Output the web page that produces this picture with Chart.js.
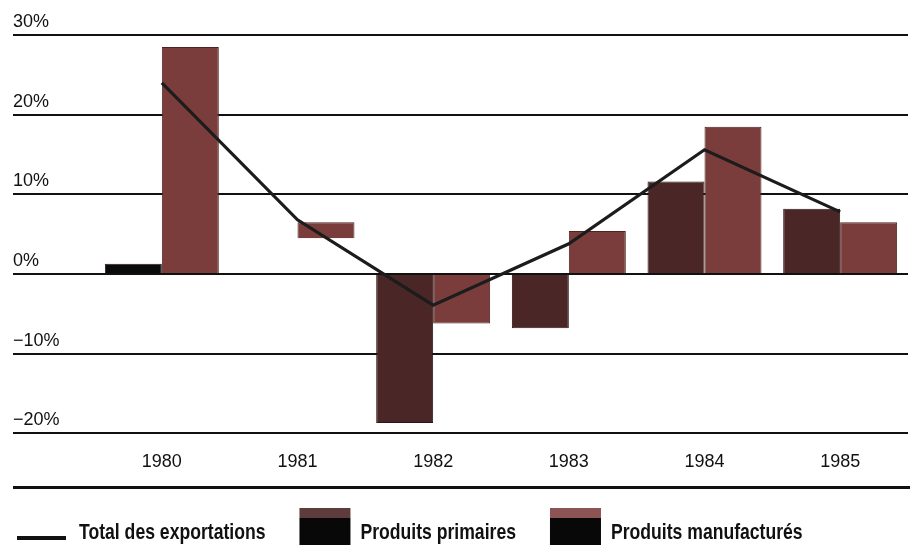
<!DOCTYPE html>
<html>
<head>
<meta charset="utf-8">
<script src="https://cdn.jsdelivr.net/npm/chart.js@4.4.1/dist/chart.umd.min.js"></script>
<style>
html, body { margin: 0; padding: 0; background: #fff; }
#wrap { width: 917px; height: 548px; }
</style>
</head>
<body>
<div id="wrap"><canvas id="exportChart" width="917" height="548"></canvas></div>
<script>
// années
var years = ['1980', '1981', '1982', '1983', '1984', '1985'];
// variation annuelle (%)
var totalExport = [24, 6.8, -3.9, 3.8, 15.6, 7.8];
var produitsPrimaires = [1.3, null, -18.7, -6.8, 11.6, 8.2];
var produitsManufactures = [28.5, [4.5, 6.5], -6.2, 5.4, 18.5, 6.5];
// graduations de l'axe vertical
var yTicks = [-20, -10, 0, 10, 20, 30];

var fontSans = '"Liberation Sans", Arial, sans-serif';

// couleur de la bande haute des carrés de légende
var legendTop = {
	'Produits primaires': '#5e3c3c',
	'Produits manufacturés': '#8c5454'
};

// légende + trait sous les années
var legendeBas = {
	id: 'legendeBas',
	afterDraw(chart) {
		var ctx = chart.ctx;
		var area = chart.chartArea;
		ctx.save();
		ctx.strokeStyle = '#111111';
		ctx.lineWidth = 3;
		ctx.beginPath();
		ctx.moveTo(13, area.bottom + 54);
		ctx.lineTo(area.right + 2, area.bottom + 54);
		ctx.stroke();

		ctx.font = 'bold 22px ' + fontSans;
		ctx.textBaseline = 'middle';
		var serre = 0.8; // texte condensé
		var x = 17, y = 533;
		chart.data.datasets.forEach(ds => {
			if (ds.type === 'line') {
				ctx.fillStyle = '#111111';
				ctx.fillRect(x, y + 3, 49, 4);
				x += 62;
			} else {
				ctx.fillStyle = legendTop[ds.label];
				ctx.fillRect(x, y - 25, 51, 10);
				ctx.fillStyle = '#080808';
				ctx.fillRect(x, y - 15, 51, 27);
				x += 61;
			}
			ctx.save();
			ctx.translate(x, y);
			ctx.scale(serre, 1);
			ctx.fillStyle = '#111111';
			ctx.fillText(ds.label, 0, 0);
			ctx.restore();
			x += ctx.measureText(ds.label).width * serre + 34;
		});
		ctx.restore();
	}
};

var myChart = new Chart(document.getElementById('exportChart'), {
	type: 'bar',
	data: {
		labels: years,
		datasets: [{
			type: 'line',
			label: 'Total des exportations',
			data: totalExport,
			borderColor: '#1c1c1c',
			borderWidth: 3.2,
			pointRadius: 0,
			tension: 0,
			fill: false
		}, {
			label: 'Produits primaires',
			data: produitsPrimaires,
			backgroundColor: ['#0a0a0a', '#4a2626', '#4a2626', '#4a2626', '#4a2626', '#4a2626'],
			borderColor: '#2e1515',
			borderWidth: 1
		}, {
			label: 'Produits manufacturés',
			data: produitsManufactures,
			backgroundColor: '#7b3d3b',
			borderColor: '#4a2322',
			borderWidth: 1
		}]
	},
	options: {
		responsive: false,
		animation: false,
		datasets: {
			bar: {
				categoryPercentage: 0.84,
				barPercentage: 1.0
			}
		},
		layout: {
			padding: { left: 13, right: 9, top: 35, bottom: 57 }
		},
		plugins: {
			legend: { display: false },
			tooltip: { enabled: false }
		},
		scales: {
			x: {
				grid: { display: false, drawTicks: false },
				border: { display: false },
				ticks: {
					color: '#111111',
					font: { family: fontSans, size: 18 },
					padding: 18
				}
			},
			y: {
				min: -20,
				max: 30,
				afterBuildTicks: axis => {
					axis.ticks = yTicks.map(v => ({ value: v }));
				},
				afterFit: axis => {
					axis.width = 81; // zone des libellés
				},
				border: { display: false },
				grid: {
					color: '#111111',
					lineWidth: 2,
					tickLength: 81 // le trait part du bord gauche
				},
				ticks: {
					crossAlign: 'far',
					labelOffset: -13,
					color: '#111111',
					font: { family: fontSans, size: 18 },
					callback: v => (v < 0 ? '\u2212' + (-v) : v) + '%'
				}
			}
		}
	},
	plugins: [legendeBas]
});
</script>
</body>
</html>
